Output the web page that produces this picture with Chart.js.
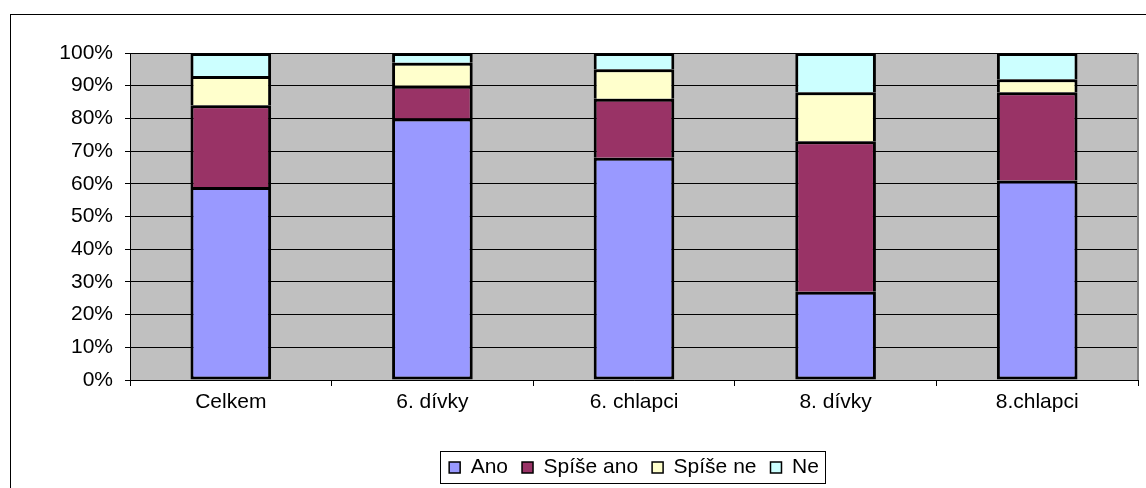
<!DOCTYPE html>
<html>
<head>
<meta charset="utf-8">
<script src="https://cdn.jsdelivr.net/npm/chart.js@4"></script>
<style>
  html, body { margin: 0; padding: 0; background: #fff; }
  #wrap { width: 1146px; height: 488px; }
</style>
</head>
<body>
<div id="wrap"><canvas id="chart" width="1146" height="488"></canvas></div>
<script>
const categories = ['Celkem', '6. dívky', '6. chlapci', '8. dívky', '8.chlapci'];
const ano = [59, 80, 68, 27, 61];
const spiseAno = [25, 10, 18, 46, 27];
const spiseNe = [9, 7, 9, 15, 4];
const ne = [7, 3, 5, 12, 8];
const yTicks = [0, 10, 20, 30, 40, 50, 60, 70, 80, 90, 100];

const font = { family: 'Liberation Sans, Arial, sans-serif', size: 21 };

// gray plot area, frame round the whole chart, box round the legend
const framePlugin = {
    id: 'frame',
    beforeDraw(chart) {
        const { ctx, chartArea: a } = chart;
        ctx.save();
        ctx.fillStyle = '#C0C0C0';
        ctx.fillRect(a.left, a.top, a.right - a.left, a.bottom - a.top);
        ctx.restore();
    },
    afterDraw(chart) {
        const { ctx, chartArea: a } = chart;
        ctx.save();
        ctx.strokeStyle = '#808080';
        ctx.lineWidth = 2;
        ctx.beginPath();
        ctx.moveTo(a.right, a.top);
        ctx.lineTo(a.right, a.bottom);
        ctx.stroke();
        ctx.strokeStyle = '#000';
        ctx.lineWidth = 1;
        ctx.strokeRect(10.5, 14.5, 1300, 600);
        const boxes = chart.legend.legendHitBoxes;
        if (boxes && boxes.length) {
            const l = Math.min(...boxes.map(b => b.left)) - 9;
            const r = Math.max(...boxes.map(b => b.left + b.width)) + 6;
            const t = Math.min(...boxes.map(b => b.top)) - 6;
            const btm = Math.max(...boxes.map(b => b.top + b.height)) + 5;
            ctx.strokeRect(Math.round(l) + 0.5, Math.round(t) + 0.5, Math.round(r - l), Math.round(btm - t));
        }
        ctx.restore();
    }
};

// the lowest series keeps its bottom edge, the others share the edge below
const mk = (label, data, color, skip) => ({
    label: label,
    data: data,
    backgroundColor: color,
    borderColor: '#000',
    borderWidth: 3,
    borderSkipped: skip,
    barPercentage: 0.4,
    categoryPercentage: 1
});

new Chart(document.getElementById('chart'), {
    type: 'bar',
    data: {
        labels: categories,
        datasets: [
            mk('Ano', ano, '#9999FF', false),
            mk('Spíše ano', spiseAno, '#993366', 'start'),
            mk('Spíše ne', spiseNe, '#FFFFCC', 'start'),
            mk('Ne', ne, '#CCFFFF', 'start')
        ]
    },
    options: {
        responsive: false,
        animation: false,
        layout: { padding: { top: 53, left: 0, right: 8, bottom: 0 } },
        plugins: {
            legend: {
                position: 'bottom',
                fullSize: false,
                labels: {
                    font: font,
                    color: '#000',
                    boxWidth: 11,
                    boxHeight: 11,
                    padding: 14,
                    generateLabels(chart) {
                        return chart.data.datasets.map((ds, i) => ({
                            text: ds.label,
                            fillStyle: ds.backgroundColor,
                            strokeStyle: '#000',
                            lineWidth: 1.5,
                            datasetIndex: i
                        }));
                    }
                }
            },
            tooltip: { enabled: false }
        },
        scales: {
            x: {
                stacked: true,
                grid: {
                    offset: true,
                    drawOnChartArea: false,
                    drawTicks: true,
                    tickLength: 6,
                    color: '#000'
                },
                border: { color: '#000', width: 1 },
                ticks: { font: font, color: '#000', padding: 4, maxRotation: 0 },
                afterFit(scale) { scale.height = 63; }
            },
            y: {
                stacked: true,
                min: 0,
                max: 100,
                afterBuildTicks(scale) { scale.ticks = yTicks.map(v => ({ value: v })); },
                grid: { color: '#000', tickLength: 5 },
                border: { color: '#000', width: 1 },
                ticks: {
                    font: font,
                    color: '#000',
                    padding: 12,
                    callback: v => v + '%'
                },
                afterFit(scale) { scale.width = 130; }
            }
        }
    },
    plugins: [framePlugin]
});
</script>
</body>
</html>
